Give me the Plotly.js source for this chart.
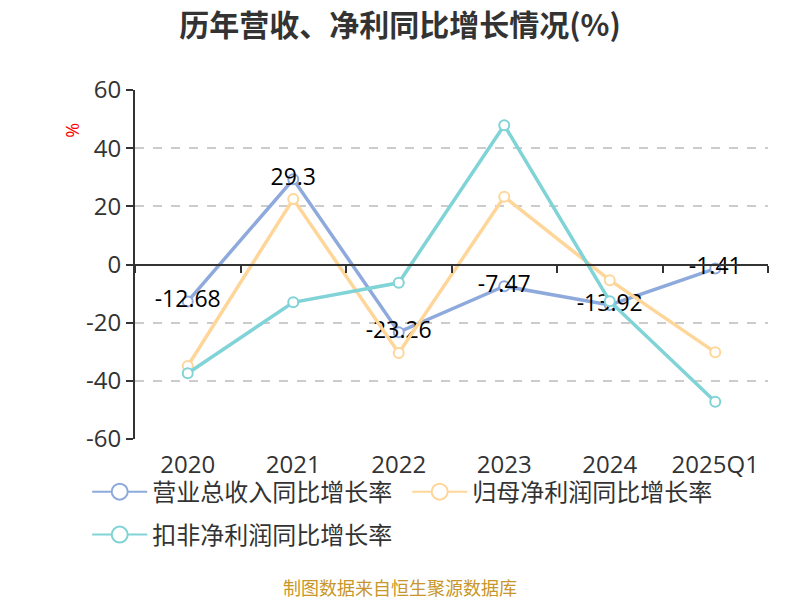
<!DOCTYPE html>
<html>
<head>
<meta charset="utf-8">
<script src="https://cdn.plot.ly/plotly-3.0.1.min.js"></script>
<style>html,body{margin:0;padding:0;background:#fff;}#chart{width:800px;height:600px;}</style>
</head>
<body>
<div id="chart"></div>
<script>
var categories = ["2020", "2021", "2022", "2023", "2024", "2025Q1"];
var revenueGrowth = [-12.68, 29.3, -23.26, -7.47, -13.92, -1.41];
var netProfitGrowth = [-34.9, 22.5, -30.4, 23.3, -5.4, -30.2];
var deductedProfitGrowth = [-37.4, -13.0, -6.3, 47.9, -12.6, -47.2];
var seriesNames = ["营业总收入同比增长率", "归母净利润同比增长率", "扣非净利润同比增长率"];
var yTicks = [-60, -40, -20, 0, 20, 40, 60];

var FONT = "Open Sans, Noto Sans CJK SC, sans-serif";
var colors = ["#8eaadc", "#ffd699", "#80d3d6"];

function mk(y, i, extra) {
  var t = {
    type: "scatter",
    mode: "lines+markers",
    x: categories,
    y: y,
    name: seriesNames[i],
    showlegend: false,
    line: {color: colors[i], width: 3.5},
    marker: {symbol: "circle", size: 10, color: "#ffffff", line: {color: colors[i], width: 2}},
    hoverinfo: "skip"
  };
  for (var k in extra) t[k] = extra[k];
  return t;
}

// legend-only entries (no data drawn) so the legend symbols can be larger
function legendEntry(i, legendId) {
  return {
    type: "scatter",
    mode: "lines+markers",
    x: categories,
    y: categories.map(function () { return null; }),
    name: seriesNames[i],
    showlegend: true,
    legend: legendId,
    line: {color: colors[i], width: 2},
    marker: {symbol: "circle", size: 16, color: "#ffffff", line: {color: colors[i], width: 2}},
    hoverinfo: "skip"
  };
}

var traces = [
  mk(revenueGrowth, 0, {
    mode: "lines+markers+text",
    text: revenueGrowth.map(String),
    textposition: "middle center",
    textfont: {family: FONT, size: 23, color: "#000000"}
  }),
  mk(netProfitGrowth, 1, {}),
  mk(deductedProfitGrowth, 2, {xaxis: "x2"}),
  legendEntry(0, "legend"),
  legendEntry(1, "legend"),
  legendEntry(2, "legend2")
];

var legendFont = {family: FONT, size: 24, color: "#333333"};

var layout = {
  width: 800,
  height: 600,
  paper_bgcolor: "#ffffff",
  plot_bgcolor: "#ffffff",
  margin: {l: 135, r: 32, t: 90, b: 161},
  font: {family: FONT, color: "#333333"},
  title: {
    text: "<b>历年营收、净利同比增长情况(%)</b>",
    font: {family: "Noto Sans CJK SC, sans-serif", size: 30, color: "#333333"},
    x: 0.5, xanchor: "center", xref: "container",
    y: 0.958, yanchor: "middle", yref: "container"
  },
  xaxis: {
    type: "category",
    range: [-0.5, 5.5],
    showline: false,
    showgrid: false,
    zeroline: false,
    ticks: "",
    tickfont: {family: FONT, size: 24, color: "#333333"},
    ticklabelstandoff: 9,
    fixedrange: true
  },
  xaxis2: {
    type: "category",
    overlaying: "x",
    matches: "x",
    anchor: "free",
    position: 0.5,
    side: "bottom",
    showline: true,
    linecolor: "#333333",
    linewidth: 2,
    ticks: "outside",
    tickson: "boundaries",
    ticklen: 7,
    tickwidth: 2,
    tickcolor: "#333333",
    showticklabels: false,
    showgrid: false,
    zeroline: false
  },
  yaxis: {
    range: [-60, 60],
    tickvals: yTicks,
    ticktext: yTicks.map(String),
    showline: true,
    linecolor: "#333333",
    linewidth: 2,
    ticks: "outside",
    ticklen: 7,
    tickwidth: 2,
    tickcolor: "#333333",
    tickfont: {family: FONT, size: 24, color: "#333333"},
    showgrid: true,
    gridcolor: "#cccccc",
    griddash: "dash",
    gridwidth: 2,
    zeroline: false,
    fixedrange: true
  },
  showlegend: true,
  legend: {
    orientation: "h",
    x: -0.0755, xanchor: "left",
    y: -0.152, yanchor: "middle",
    font: legendFont,
    bgcolor: "rgba(0,0,0,0)",
    itemwidth: 55,
    entrywidth: 250,
    entrywidthmode: "pixels"
  },
  legend2: {
    orientation: "h",
    x: -0.0755, xanchor: "left",
    y: -0.275, yanchor: "middle",
    font: legendFont,
    bgcolor: "rgba(0,0,0,0)",
    itemwidth: 55
  },
  annotations: [
    {
      text: "%", xref: "paper", yref: "paper",
      x: -0.1, y: 0.885, xanchor: "center", yanchor: "middle",
      textangle: -90, showarrow: false,
      font: {family: FONT, size: 18, color: "#ff0000"}
    },
    {
      text: "制图数据来自恒生聚源数据库", xref: "paper", yref: "paper",
      x: 0.418, y: -0.425, xanchor: "center", yanchor: "middle",
      showarrow: false, borderpad: 0,
      font: {family: "Noto Sans CJK SC, sans-serif", size: 18, color: "#c8962a"}
    }
  ]
};

Plotly.newPlot("chart", traces, layout, {displayModeBar: false, staticPlot: true});
</script>
</body>
</html>
